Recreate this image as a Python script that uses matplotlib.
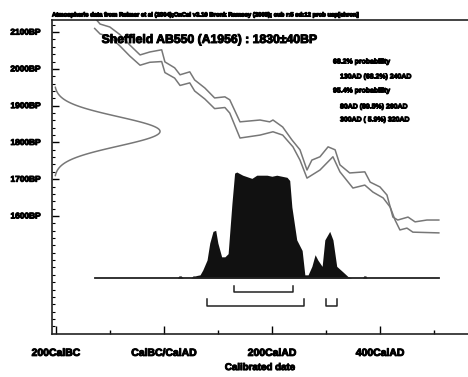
import numpy as np
import matplotlib
matplotlib.use('Agg')
import matplotlib.pyplot as plt
import matplotlib.patheffects as pe

# calibration curve envelope (cal year AD, radiocarbon age BP)
cal_years = [-128, -118, -100, -81, -63, -44, -26, -4, 2, 20, 30, 48, 57, 76, 94, 113, 122,
             141, 178, 196, 202, 220, 237, 252, 265, 274, 289, 304, 317, 326, 344, 372, 382,
             400, 413, 424, 433, 452, 465, 487, 509]
curve_upper = [2139, 2122, 2114, 2093, 2065, 2038, 2046, 2052, 2019, 2003, 1984, 1992, 1970, 1948, 1921, 1924, 1916,
               1856, 1861, 1856, 1861, 1842, 1807, 1780, 1725, 1752, 1761, 1788, 1780, 1739, 1717, 1720, 1692,
               1679, 1657, 1597, 1589, 1597, 1584, 1589, 1589]
cal_years_lo = [-128, -118, -100, -81, -63, -44, -26, -4, 2, 20, 30, 48, 57, 76, 94, 113, 122,
                141, 178, 202, 220, 239, 252, 265, 289, 313, 326, 350, 372, 387, 406, 419, 428,
                437, 450, 461, 509]
curve_lower = [2110, 2095, 2088, 2062, 2035, 2010, 2018, 2020, 1990, 1975, 1955, 1962, 1940, 1918, 1892, 1895, 1880,
               1812, 1820, 1829, 1820, 1788, 1752, 1703, 1725, 1761, 1720, 1676, 1684, 1665, 1649, 1624, 1589,
               1562, 1567, 1556, 1554]

# measurement
c14_age = 1830
c14_err = 40

# calibrated probability distribution (relative)
prob_years = [-128, 25, 28, 32, 36, 50, 54, 58, 62, 67, 72, 80, 85, 91, 96, 100, 107, 113, 119, 126, 131,
              135, 146, 163, 172, 191, 200, 209, 228, 233, 237, 246, 256, 261, 267, 274, 280, 285,
              293, 298, 307, 313, 320, 331, 341, 348, 368, 370, 374, 376, 509]
prob = [0, 0, 0.02, 0.02, 0, 0, 0.02, 0.02, 0.025, 0.03, 0.075, 0.17, 0.33, 0.44, 0.45, 0.33, 0.20, 0.20, 0.23, 0.70, 0.99,
        1.0, 0.97, 0.94, 0.97, 0.97, 0.96, 0.97, 0.95, 0.92, 0.67, 0.36, 0.26, 0.03, 0.03, 0.11, 0.22, 0.17,
        0.11, 0.36, 0.44, 0.36, 0.11, 0.06, 0.013, 0, 0, 0.02, 0.02, 0, 0]

range68 = [(130, 240)]
range95 = [(80, 260), (300, 320)]

legend_lines = ['68.2% probability', '130AD (68.2%) 240AD', '95.4% probability',
                '80AD (89.5%) 260AD', '300AD ( 5.9%) 320AD']
xtick_pos = [-200, 0, 200, 400]
xtick_labels = ['200CalBC', 'CalBC/CalAD', '200CalAD', '400CalAD']
ytick_pos = [1600, 1700, 1800, 1900, 2000, 2100]

plt.rcParams['font.family'] = ['Liberation Sans', 'DejaVu Sans']
plt.rcParams['font.weight'] = 'bold'
heavy = [pe.withStroke(linewidth=0.7, foreground='black')]

W, H = 468, 377
fig = plt.figure(figsize=(W / 100, H / 100), dpi=100)
ax = fig.add_axes([52 / W, 1 - 334 / H, 416 / W, 314 / H])
xlo, xhi = -207, 563
ax.set_xlim(xlo, xhi)
ax.set_ylim(1279, 2133)

grey = '#777777'
ax.plot(cal_years, curve_upper, color=grey, lw=1.1)
ax.plot(cal_years_lo, curve_lower, color=grey, lw=1.1)

# measured radiocarbon date on the y axis
bp = np.linspace(c14_age - 3 * c14_err, c14_age + 3 * c14_err, 121)
g = np.exp(-0.5 * ((bp - c14_age) / c14_err) ** 2)
ax.plot(xlo + 4 + 196 * g, bp, color=grey, lw=1.1)

# probability distribution
ax2 = ax.twinx()
ax2.set_ylim(-0.528, 2.434)
ax2.axis('off')
ax2.fill_between(prob_years, 0, prob, color='#111111', lw=0)
ax2.plot([prob_years[0], prob_years[-1]], [0, 0], color='#222222', lw=1.3)
for a, b in range68:
    ax2.plot([a, a, b, b], [-0.075, -0.132, -0.132, -0.075], color='#222222', lw=1.1)
for a, b in range95:
    ax2.plot([a, a, b, b], [-0.198, -0.264, -0.264, -0.198], color='#222222', lw=1.1)

ax.spines['right'].set_visible(False)
for s in ['left', 'bottom', 'top']:
    ax.spines[s].set_linewidth(1.2)
    ax.spines[s].set_color('#222222')

ax.set_xticks(xtick_pos)
ax.set_xticklabels(xtick_labels, fontsize=7.5, fontweight='bold', path_effects=heavy)
ax.set_xticks([-100, 100, 300, 500], minor=True)
ax.set_yticks(ytick_pos)
ax.set_yticklabels([f'{v}BP' for v in ytick_pos], fontsize=6, fontweight='bold', path_effects=heavy)
ax.set_yticks(np.arange(1300, 2140, 20), minor=True)
ax.tick_params(axis='x', which='major', direction='in', length=6, width=1, pad=10)
ax.tick_params(axis='x', which='minor', direction='in', length=3, width=1)
ax.tick_params(axis='y', which='major', direction='in', length=5, width=1, pad=8)
ax.tick_params(axis='y', which='minor', direction='in', length=2.5, width=0.8)
ax.set_xlabel('Calibrated date', fontsize=7, fontweight='bold', labelpad=3, path_effects=heavy)

fig.text(52 / W, 1 - 15 / H,
         'Atmospheric data from Reimer et al (2004);OxCal v3.10 Bronk Ramsey (2005); cub r:5 sd:12 prob usp[chron]',
         fontsize=4.3, fontweight='bold', ha='left', va='center',
         path_effects=[pe.withStroke(linewidth=0.8, foreground='black')])
fig.text(210 / W, 1 - 40 / H, 'Sheffield AB550 (A1956) : 1830\u00b140BP',
         fontsize=8.8, fontweight='bold', ha='center', va='center', path_effects=heavy)
ly = [62, 77, 91, 107, 120]
lx = [333, 340, 333, 340, 340]
for t, x, y in zip(legend_lines, lx, ly):
    fig.text(x / W, 1 - y / H, t, fontsize=5, fontweight='bold', ha='left', va='center',
             path_effects=[pe.withStroke(linewidth=0.7, foreground='black')])

fig.savefig('out.png', dpi=100)
